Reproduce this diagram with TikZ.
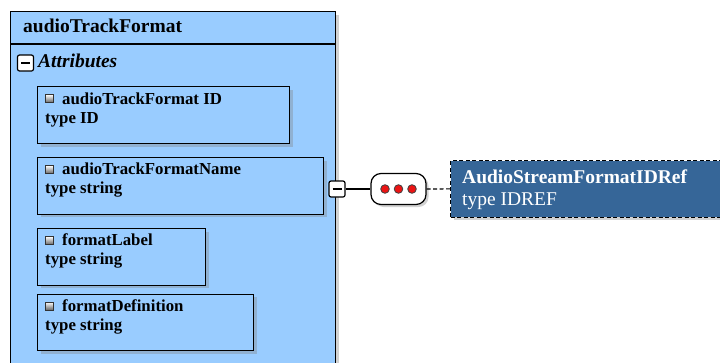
\documentclass[tikz,border=0pt]{standalone}
\usepackage{fontspec}
\setmainfont{Liberation Serif}
\usetikzlibrary{positioning,shadows}
\definecolor{attrblue}{RGB}{153, 204, 255}
\definecolor{refblue}{RGB}{54, 102, 152}
\definecolor{dotred}{RGB}{235, 20, 20}

\begin{document}
\begin{tikzpicture}[x=1pt,y=-1pt,
        elembox/.style={draw,fill=attrblue,line width=1.2pt,anchor=north west,inner sep=0pt,
            drop shadow={shadow xshift=3pt,shadow yshift=-3pt,opacity=0.35}},
        attrtext/.style={anchor=base west,inner sep=0pt,font=\fontsize{16.8}{18}\selectfont\bfseries},
        attricon/.style={draw=black!80,line width=0.6pt,inner sep=0pt,minimum size=8pt,
            top color=white,bottom color=black!60},
        minusbox/.style={draw,fill=white,rounded corners=2pt,inner sep=0pt,
            minimum width=16pt,minimum height=16pt,line width=1.2pt},
        refdash/.style={dash pattern=on 4pt off 2.5pt}]
        \clip (0,0) rectangle (720,362);
        \fill[white] (0,0) rectangle (720,362);

        % Element
        \node[elembox,minimum width=325pt,minimum height=380pt] (track) at (10,11) {};
        \draw[line width=1.2pt] ([yshift=-33pt]track.north west) -- ([yshift=-33pt]track.north east);
        \node[anchor=base west,inner sep=0pt,font=\fontsize{19.5}{21}\selectfont\bfseries] (title)
            at ([shift={(13,21)}]track.north west) {audioTrackFormat};

        % Attributes
        \node[minusbox] (attrtoggle) at (25.5,63) {};
        \draw[line width=1.2pt] ([xshift=-4.5pt]attrtoggle.center) -- ([xshift=4.5pt]attrtoggle.center);
        \node[anchor=base west,inner sep=0pt,font=\fontsize{19.5}{21}\selectfont\bfseries\itshape] (attrs)
            at (38,67) {Attributes};

        \node[elembox,minimum width=252pt,minimum height=57pt] (idbox) at (37,86) {};
        \node[attricon] (idicon) at ([shift={(12.5,12.5)}]idbox.north west) {};
        \node[attrtext] (idname) at ([shift={(25,18)}]idbox.north west) {audioTrackFormat ID};
        \node[attrtext] (idtype) at ([shift={(8,37)}]idbox.north west) {type ID};

        \node[elembox,minimum width=286pt,minimum height=56.5pt] (namebox) at (37,157) {};
        \node[attricon] (nameicon) at ([shift={(12.5,12.5)}]namebox.north west) {};
        \node[attrtext] (namename) at ([shift={(25,17.5)}]namebox.north west) {audioTrackFormatName};
        \node[attrtext] (nametype) at ([shift={(8,36.5)}]namebox.north west) {type string};

        \node[elembox,minimum width=168pt,minimum height=56.5pt] (labelbox) at (37,228) {};
        \node[attricon] (labelicon) at ([shift={(12.5,12.5)}]labelbox.north west) {};
        \node[attrtext] (labelname) at ([shift={(25,17.5)}]labelbox.north west) {formatLabel};
        \node[attrtext] (labeltype) at ([shift={(8,36.5)}]labelbox.north west) {type string};

        \node[elembox,minimum width=216pt,minimum height=56.5pt] (defbox) at (37,293.5) {};
        \node[attricon] (deficon) at ([shift={(12.5,12.5)}]defbox.north west) {};
        \node[attrtext] (defname) at ([shift={(25,17.5)}]defbox.north west) {formatDefinition};
        \node[attrtext] (deftype) at ([shift={(8,36.5)}]defbox.north west) {type string};

        % Sequence
        \node[minusbox] (toggle) at (337,189) {};
        \draw[line width=1.2pt] ([xshift=-4.5pt]toggle.center) -- ([xshift=4.5pt]toggle.center);
        \node[draw,fill=white,rounded corners=10pt,line width=1.2pt,minimum width=55pt,minimum height=31pt,
            drop shadow={shadow xshift=2.5pt,shadow yshift=-2.5pt,opacity=0.35}] (seq) at (398.5,189) {};
        \foreach \i in {-1,0,1}
            \draw[fill=dotred,draw=black!75,line width=0.8pt] ([xshift=\i*13.5pt]seq.center) circle (4.3pt);

        % Reference
        \node[draw,refdash,fill=refblue,line width=1.2pt,anchor=north west,minimum width=290pt,minimum height=56.5pt,
            drop shadow={shadow xshift=3pt,shadow yshift=-3pt,opacity=0.35}] (ref) at (450,160) {};
        \node[anchor=base west,inner sep=0pt,text=white,font=\fontsize{19.5}{21}\selectfont\bfseries] (refname)
            at ([shift={(12,23)}]ref.north west) {AudioStreamFormatIDRef};
        \node[anchor=base west,inner sep=0pt,text=white,font=\fontsize{19.5}{21}\selectfont] (reftype)
            at ([shift={(12,45)}]ref.north west) {type IDREF};

        % Connectors
        \draw[line width=1.2pt] (toggle.east) -- (seq.west);
        \draw[refdash,line width=1.2pt] (seq.east) -- (ref.west);
    \end{tikzpicture}
\end{document}
